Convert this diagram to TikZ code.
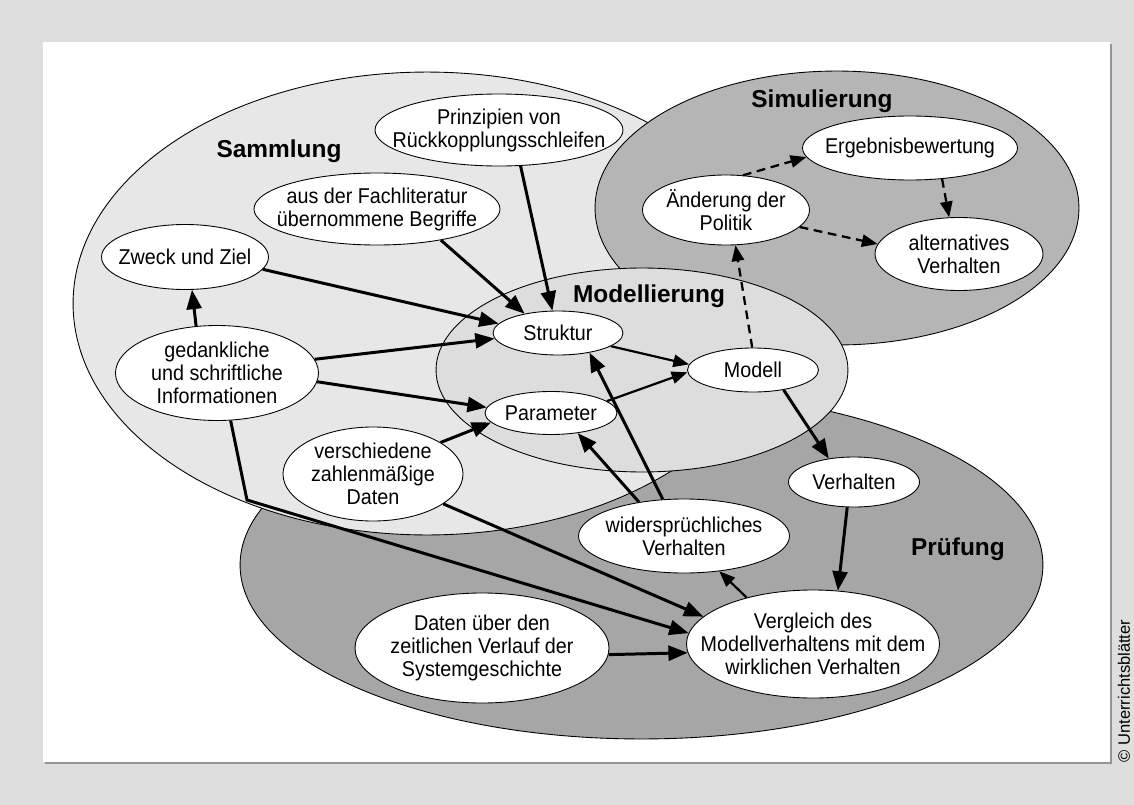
\documentclass[tikz,border=0pt]{standalone}
\usepackage{fontspec}
\setmainfont{Liberation Sans}[FakeStretch=0.92]
\newfontfamily\headfont{Liberation Sans}
\usetikzlibrary{shapes.geometric,arrows.meta}

\definecolor{pagebg}{HTML}{DEDEDE}
\definecolor{shadowgray}{HTML}{959595}
\definecolor{sammelfill}{HTML}{E7E7E7}
\definecolor{modellfill}{HTML}{DDDDDD}
\definecolor{simfill}{HTML}{B5B5B5}
\definecolor{pruefill}{HTML}{A6A6A6}

\tikzset{
  bub/.style={ellipse, draw=black, line width=0.5pt, fill=white, inner sep=0pt},
  txt/.style={align=center, inner sep=0pt, font=\fontsize{12.2}{13.1}\selectfont},
  phase/.style={draw=black, line width=0.5pt},
  head/.style={anchor=base, inner sep=0pt, font=\headfont\bfseries\fontsize{13.9}{15}\selectfont},
  arr/.style={line width=1.7pt, -{Triangle[length=11pt,width=8.5pt]}},
  arrthin/.style={line width=1.25pt, -{Triangle[length=9pt,width=7pt]}},
  darr/.style={line width=1.3pt, dash pattern=on 5pt off 3.2pt, -{Triangle[length=9pt,width=7pt]}},
}

% bubble node: name, x, y, width, height (in px units), text
\newcommand\ovalnode[6]{%
  \node[bub, minimum width=#4*0.02cm, minimum height=#5*0.02cm] (#1) at (#2,#3) {};
  \node[txt] (#1-t) at (#1) {#6};
}

\begin{document}
\begin{tikzpicture}[x=0.02cm, y=-0.02cm]
  % page and panel
  \fill[pagebg] (0,0) rectangle (1134,805);
  \useasboundingbox (0,0) rectangle (1134,805);
  \fill[shadowgray] (45,44) rectangle (1112,764);
  \fill[white] (43,42) rectangle (1110,762);

  % phase areas
  \filldraw[phase, fill=pruefill] (641.5,565) ellipse [x radius=8.03cm, y radius=3.48cm];
  \filldraw[phase, fill=sammelfill] (427,303.5) ellipse [x radius=7.08cm, y radius=4.63cm];
  \filldraw[phase, fill=simfill] (837,208) ellipse [x radius=4.84cm, y radius=2.74cm];
  \filldraw[phase, fill=modellfill] (642,370) ellipse [x radius=4.12cm, y radius=2.04cm];

  % phase titles
  \node[head] (t-samm) at (279,157) {Sammlung};
  \node[head] (t-mod) at (649,302) {Modellierung};
  \node[head] (t-sim) at (822,107) {Simulierung};
  \node[head] (t-pruef) at (958,555) {Prüfung};

  % bubbles
  \ovalnode{prinz}{499}{130}{248}{72}{Prinzipien von\\Rückkopplungsschleifen}
  \ovalnode{aus}{377}{209}{246}{72}{aus der Fachliteratur\\übernommene Begriffe}
  \ovalnode{zweck}{185}{257}{167}{65}{Zweck und Ziel}
  \ovalnode{ged}{217}{373}{203}{95}{gedankliche\\und schriftliche\\Informationen}
  \ovalnode{versch}{373}{474}{180}{94}{verschiedene\\zahlenmäßige\\Daten}
  \ovalnode{struktur}{558}{333}{130}{44}{Struktur}
  \ovalnode{param}{551}{413}{132}{43}{Parameter}
  \ovalnode{modell}{753}{370}{131}{44}{Modell}
  \ovalnode{aend}{726}{210}{167}{70}{Änderung der\\Politik}
  \ovalnode{ergeb}{910}{148}{215}{64}{Ergebnisbewertung}
  \ovalnode{alt}{959}{254}{168}{73}{alternatives\\Verhalten}
  \ovalnode{verh}{854}{482}{131}{50}{Verhalten}
  \ovalnode{wid}{684}{536}{211}{74}{widersprüchliches\\Verhalten}
  \ovalnode{vergl}{813}{644}{253}{108}{Vergleich des\\Modellverhaltens mit dem\\wirklichen Verhalten}
  \ovalnode{daten}{482}{648}{254}{110}{Daten über den\\zeitlichen Verlauf der\\Systemgeschichte}

  % collection links
  \draw[arr] (zweck.-9.6) -- (struktur.171);
  \draw[arr] (ged.114) -- (zweck.-78);
  \draw[arr] (ged.8.4) -- (struktur.-175.6);
  \draw[arr] (ged.-5) -- (param.175.5);
  \coordinate (gbend) at (247,500);
  \draw[arr] (ged.-74.5) -- (gbend) -- (vergl.175);
  \draw[arr] (versch.25.5) -- (param.-171);
  \draw[arr] (versch.-23.4) -- (vergl.166.9);
  \draw[arr] (aus.-26.6) -- (struktur.150);
  \draw[arr] (prinz.-59.7) -- (struktur.104.6);

  % modelling links
  \draw[arrthin] (struktur.-14.3) -- (modell.175.6);
  \draw[arrthin] (param.12.4) -- (modell.-178.2);

  % testing links
  \draw[arr] (wid.120.7) -- (struktur.-32.9);
  \draw[arr] (wid.143.5) -- (param.-37.2);
  \draw[arr] (modell.-33.7) -- (verh.137.3);
  \draw[arr] (verh.-105.6) -- (vergl.65.2);
  \draw[arrthin] (vergl.145.9) -- (wid.-45);
  \draw[arr] (daten.-3.2) -- (vergl.-176.4);

  % simulation links
  \draw[darr] (modell.92.6) -- (aend.-75.6);
  \draw[darr] (aend.64) -- (ergeb.-175);
  \draw[darr] (ergeb.-44) -- (alt.105);
  \draw[darr] (aend.-13.3) -- (alt.173);

  % credit line
  \node[rotate=90, inner sep=0pt, font=\headfont\fontsize{9.4}{11}\selectfont] (credit) at (1124,691) {© Unterrichtsblätter};
\end{tikzpicture}
\end{document}
